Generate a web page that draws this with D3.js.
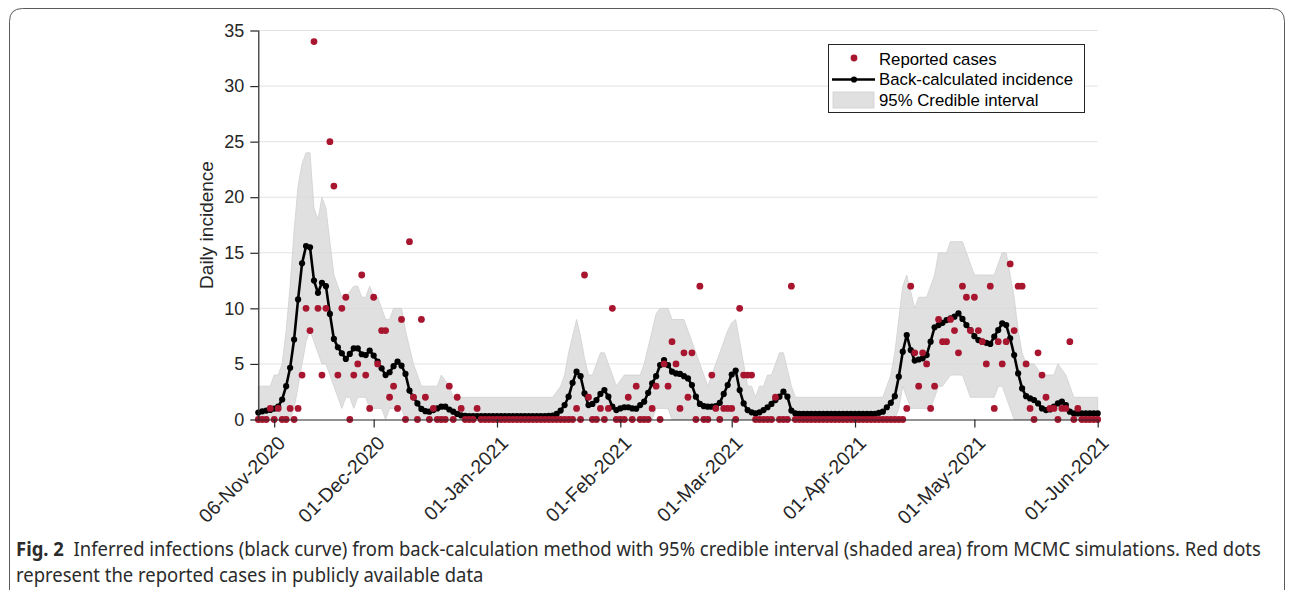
<!DOCTYPE html>
<html><head><meta charset="utf-8">
<script src="https://cdn.jsdelivr.net/npm/d3@7"></script>
<style>body{margin:0;background:#fff}svg{display:block}</style>
</head><body><svg id="c" width="1292" height="590"></svg>
<script>
// ---- data (one value per day, starting at startDate) ----
const startDate = "2020-11-02";
const reported = [
0,0,0,1,0,1,0,0,1,0,
1,4,10,8,34,10,4,10,25,21,
4,10,11,0,4,5,13,4,1,11,
5,8,8,2,3,1,9,0,16,2,
0,9,2,0,1,0,0,0,3,0,
2,1,0,0,0,1,0,0,0,0,
0,0,0,0,0,0,0,0,0,0,
0,0,0,0,0,0,0,0,0,0,
1,0,13,2,0,0,1,0,1,10,
0,0,0,2,0,3,0,0,0,1,
3,0,5,3,7,5,1,6,2,6,
0,12,0,0,4,1,0,1,1,1,
0,10,4,4,4,0,0,0,0,0,
2,0,0,0,12,0,0,0,0,0,
0,0,0,0,0,0,0,0,0,0,
0,0,0,0,0,0,0,0,0,0,
0,0,0,1,12,6,3,6,5,1,
3,9,7,7,9,8,6,12,11,8,
11,8,7,5,12,1,7,5,7,14,
8,12,12,5,1,0,6,4,2,1,
1,0,1,1,7,0,1,0,0,0,
0,0];
const incidence = [
0.62,0.74,0.8,0.86,0.98,1.16,1.8,3.0,4.65,7.2,
10.8,14.05,15.6,15.5,12.5,11.4,12.3,12.0,9.5,7.25,
6.5,5.96,5.45,5.9,6.4,6.4,5.87,5.8,6.2,5.75,
5.2,4.6,4.0,4.25,4.8,5.2,4.84,4.1,2.6,2.0,
1.45,0.95,0.75,0.7,0.85,1.0,1.15,1.15,0.9,0.7,
0.5,0.37,0.32,0.3,0.3,0.3,0.3,0.3,0.3,0.3,
0.3,0.3,0.3,0.3,0.3,0.3,0.3,0.3,0.3,0.3,
0.3,0.3,0.3,0.32,0.35,0.5,0.8,1.3,2.05,3.3,
4.3,3.9,2.35,1.3,1.4,1.75,2.3,2.65,2.05,1.15,
0.85,1.0,1.1,1.1,1.0,0.97,1.3,1.6,2.4,3.25,
3.9,4.9,5.35,4.9,4.3,4.15,4.1,3.9,3.7,3.1,
2.05,1.4,1.2,1.15,1.15,1.2,1.5,2.3,3.1,4.05,
4.4,2.65,1.45,0.85,0.65,0.55,0.65,0.85,1.1,1.4,
1.75,2.05,2.5,2.05,0.8,0.55,0.5,0.5,0.5,0.5,
0.5,0.5,0.5,0.5,0.5,0.5,0.5,0.5,0.5,0.5,
0.5,0.5,0.5,0.5,0.5,0.5,0.6,0.7,1.1,1.5,
2.1,3.85,6.1,7.6,6.25,5.3,5.4,5.5,5.8,7.0,
8.3,8.5,8.7,8.95,9.1,9.25,9.55,9.05,8.5,8.05,
7.5,7.15,7.0,6.9,6.8,7.45,8.05,8.65,8.5,7.3,
5.8,4.15,2.8,2.1,1.9,1.75,1.45,1.0,0.85,0.9,
1.15,1.45,1.6,1.3,0.7,0.55,0.55,0.55,0.55,0.55,
0.55,0.55];
const ciLower = [
0,0,0,0,0,0,0,0,0,1,
3,5,7,8,7,6,5,5,4,3,
2,1,2,2,1,2,2,2,1,1,
1,1,0,1,1,1,1,0,0,0,
0,0,0,0,0,0,0,0,0,0,
0,0,0,0,0,0,0,0,0,0,
0,0,0,0,0,0,0,0,0,0,
0,0,0,0,0,0,0,0,0,0,
0,0,0,0,0,0,0,0,0,0,
0,0,0,0,0,0,0,0,0,0,
1,1,1,1,0,0,0,0,0,0,
0,0,0,0,0,0,0,0,0,0,
0,0,0,0,0,0,0,0,0,0,
0,0,0,0,0,0,0,0,0,0,
0,0,0,0,0,0,0,0,0,0,
0,0,0,0,0,0,0,0,0,0,
0,1,3,2,1,1,1,1,1,1,
2,3,3,3.5,4,4,4,4,3,2,
2,2,2,2,2,2,3,3,2,1,
0,0,0,0,0,0,0,0,0,0,
0,0,0,0,0,0,0,0,0,0,
0,0];
const ciUpper = [
3,3,3,3,4,4,5,8,12,17,
21,23,24,24,19,18,20,19,16,13,
12,11,11,11.5,12,12,11,11,12,11,
11,10,9,9,10,10,10,8,6.5,5,
4,3,3,3,3,3,4,3.5,3,2,
2,2,2,2,2,2,2,2,2,2,
2,2,2,2,2,2,2,2,2,2,
2,2,2,2,2,2.5,3,4,6,7.5,
9,7.5,5.5,4,4,5,6,6,5,4,
3,3.5,4,4,4,4,4,5,6.5,8,
9.5,10,10,10,9,9,9,9,8,7,
6,5,4,3,4,5,6,7,8,8.7,
9,7,5,3,3,2,3,3,4,4,
5,6,6,4.5,3,2,2,2,2,2,
2,2,2,2,2,2,2,2,2,2,
2,2,2,2,2,2,2,2,3,4,
6,9,12,13,11.5,10,11,11,11,12,
13,15,15,15,16,16,16,16,15,14,
13,13,13,13,13,13,14,15,15,13,
11,8,6,5,5,5,4.5,4,4,4,
4,5,4.5,4,3,2,2,2,2,2,
2,2];
const yTicks = [0,5,10,15,20,25,30,35];
const xTickDates = ["2020-11-06","2020-12-01","2021-01-01","2021-02-01","2021-03-01","2021-04-01","2021-05-01","2021-06-01"];
const xTickLabels = ["06-Nov-2020","01-Dec-2020","01-Jan-2021","01-Feb-2021","01-Mar-2021","01-Apr-2021","01-May-2021","01-Jun-2021"];
const legendLabels = ["Reported cases","Back-calculated incidence","95% Credible interval"];

// ---- drawing ----
const svg = d3.select("#c");
const parse = d3.utcParse("%Y-%m-%d");
const t0 = parse(startDate);
const dates = incidence.map((_, i) => d3.utcDay.offset(t0, i));
const rows = dates.map((d, i) => ({d, rep: reported[i], inc: incidence[i], lo: ciLower[i], hi: ciUpper[i]}));

const X0 = 258.3, X1 = 1097.7, Y0 = 419.5, Y1 = 30.5;
const x = d3.scaleUtc().domain([t0, dates[dates.length - 1]]).range([X0, X1]);
const y = d3.scaleLinear().domain([0, 35]).range([Y0, Y1]);

const AX = "Liberation Sans, Arial, Helvetica, sans-serif";

// frame
svg.append("path")
  .attr("d", `M9.5,600 L9.5,21.5 Q9.5,8.5 22.5,8.5 L1271.5,8.5 Q1284.5,8.5 1284.5,21.5 L1284.5,600`)
  .attr("fill", "none").attr("stroke", "#5a5a5a").attr("stroke-width", 1);

// grid
svg.append("g").selectAll("line").data(yTicks.filter(v => v > 0)).join("line")
  .attr("x1", X0).attr("x2", X1).attr("y1", d => y(d)).attr("y2", d => y(d))
  .attr("stroke", "#e3e3e3").attr("stroke-width", 1);

// credible band
svg.append("path").datum(rows)
  .attr("d", d3.area().x(r => x(r.d)).y0(r => y(r.lo)).y1(r => y(r.hi)))
  .attr("fill", "#d8d8d8").attr("fill-opacity", 0.8)
  .attr("stroke", "#d0d0d0").attr("stroke-width", 0.8);

// black line
svg.append("path").datum(rows)
  .attr("d", d3.line().x(r => x(r.d)).y(r => y(r.inc)))
  .attr("fill", "none").attr("stroke", "#000").attr("stroke-width", 2.6).attr("stroke-linejoin", "round");
svg.append("g").selectAll("circle").data(rows).join("circle")
  .attr("cx", r => x(r.d)).attr("cy", r => y(r.inc)).attr("r", 3.1).attr("fill", "#000");

// reported dots
const RED = "#a8152f";
svg.append("g").selectAll("circle").data(rows).join("circle")
  .attr("cx", r => x(r.d)).attr("cy", r => y(r.rep)).attr("r", 3.4).attr("fill", RED);

// axes
const yAxis = svg.append("g").attr("transform", `translate(${X0},0)`)
  .call(d3.axisLeft(y).tickValues(yTicks).tickSize(8).tickPadding(6));
const xAxis = svg.append("g").attr("transform", `translate(0,${Y0})`)
  .call(d3.axisBottom(x).tickValues(xTickDates.map(parse)).tickSize(8)
    .tickFormat((d, i) => xTickLabels[i]));
[yAxis, xAxis].forEach(g => {
  g.select(".domain").attr("stroke", "#262626").attr("stroke-width", 1.2);
  g.selectAll(".tick line").attr("stroke", "#262626").attr("stroke-width", 1.2);
  g.selectAll("text").attr("font-family", AX).attr("font-size", 18).attr("fill", "#262626");
});
yAxis.select(".domain").attr("d", `M0.5,${Y0}V${Y1}`);
xAxis.select(".domain").attr("d", `M${X0},0.5H${X1}`);
xAxis.selectAll(".tick text")
  .attr("font-size", 19.5)
  .attr("text-anchor", "end").attr("y", 0).attr("dy", "0.35em")
  .attr("transform", "translate(7,20) rotate(-45)");

// y label
svg.append("text").attr("transform", `translate(213,${(Y0 + Y1) / 2}) rotate(-90)`)
  .attr("text-anchor", "middle").attr("font-family", AX).attr("font-size", 19).attr("fill", "#262626")
  .text("Daily incidence");

// legend
const lg = svg.append("g");
lg.append("rect").attr("x", 828.5).attr("y", 44.5).attr("width", 256).attr("height", 68)
  .attr("fill", "#fff").attr("stroke", "#262626").attr("stroke-width", 1);
const ly = [59, 79.5, 100];
lg.append("circle").attr("cx", 854).attr("cy", ly[0] - 1).attr("r", 3.4).attr("fill", RED);
lg.append("line").attr("x1", 832).attr("x2", 875).attr("y1", ly[1]).attr("y2", ly[1]).attr("stroke", "#000").attr("stroke-width", 2.6);
lg.append("circle").attr("cx", 854).attr("cy", ly[1]).attr("r", 3.1).attr("fill", "#000");
lg.append("rect").attr("x", 833).attr("y", ly[2] - 8).attr("width", 41).attr("height", 16)
  .attr("fill", "#d8d8d8").attr("fill-opacity", 0.8).attr("stroke", "#d0d0d0").attr("stroke-width", 0.8);
lg.selectAll("text.l").data(legendLabels).join("text").attr("class", "l")
  .attr("x", 879).attr("y", (d, i) => ly[i]).attr("dy", "0.35em")
  .attr("font-family", AX).attr("font-size", 16.8).attr("fill", "#000").text(d => d);

// caption (real text, compressed horizontally to the reference width)
const CF = "Noto Sans, Open Sans, sans-serif";
const capSize = 19;
const cap = svg.append("g").attr("font-family", CF).attr("fill", "#2b2b2b");
const c1 = cap.append("g"), c2 = cap.append("g");
const l1 = c1.append("text").attr("x", 0).attr("y", 0).attr("font-size", capSize);
l1.append("tspan").attr("font-weight", "bold").text("Fig. 2");
l1.append("tspan").attr("dx", 10).text("Inferred infections (black curve) from back-calculation method with 95% credible interval (shaded area) from MCMC simulations. Red dots");
const l2 = c2.append("text").attr("x", 0).attr("y", 0).attr("font-size", capSize)
  .text("represent the reported cases in publicly available data");
const w = l1.node().getComputedTextLength();
const sx = 1236 / w;
c1.attr("transform", `translate(16,556) scale(${sx},1)`);
c2.attr("transform", `translate(16,582) scale(${sx},1)`);
</script></body></html>
